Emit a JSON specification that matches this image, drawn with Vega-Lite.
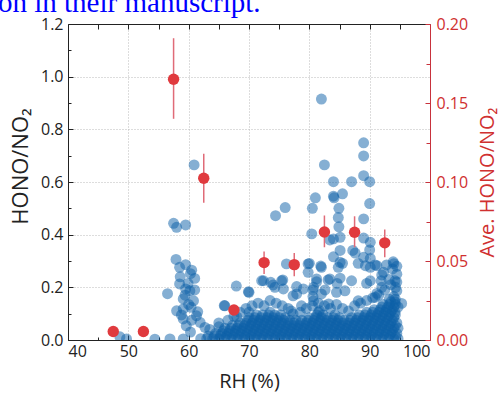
{
"$schema":"https://vega.github.io/schema/vega-lite/v6.json",
"width":362,"height":316,
"autosize":{"type":"none"},
"padding":{"left":68,"top":24,"right":69,"bottom":58},
"background":"white",
"title":{"text":"on in their manuscript.","font":"Liberation Serif","fontSize":29,"fontWeight":"normal","color":"#0000ff","anchor":"start","frame":"group","baseline":"alphabetic","offset":3,"dx":-70,"dy":28},
"config":{"view":{"stroke":null},"font":"Open Sans",
 "axis":{"labelFont":"Open Sans","titleFont":"Open Sans","labelFontSize":16,"titleFontSize":20,"titleFontWeight":"normal","labelColor":"#222","titleColor":"#222","domainColor":"#222","tickColor":"#222","domainWidth":1,"tickWidth":1,"grid":false}},
"datasets":{
"blue":[
{"rh":60.9,"ratio":0.665},{"rh":57.5,"ratio":0.443},{"rh":58.0,"ratio":0.428},{"rh":59.5,"ratio":0.437},{"rh":57.9,"ratio":0.306},{"rh":58.5,"ratio":0.276},{"rh":59.5,"ratio":0.286},{"rh":60.5,"ratio":0.265},{"rh":60.3,"ratio":0.252},{"rh":61.0,"ratio":0.234},{"rh":58.5,"ratio":0.213},{"rh":59.5,"ratio":0.194},{"rh":59.9,"ratio":0.215},{"rh":60.2,"ratio":0.187},{"rh":61.0,"ratio":0.19},{"rh":56.5,"ratio":0.176},{"rh":59.1,"ratio":0.156},{"rh":60.8,"ratio":0.149},{"rh":58.0,"ratio":0.111},{"rh":59.1,"ratio":0.118},{"rh":60.4,"ratio":0.124},{"rh":59.1,"ratio":0.08},{"rh":61.3,"ratio":0.092},{"rh":59.6,"ratio":0.054},{"rh":61.9,"ratio":0.067},{"rh":62.7,"ratio":0.048},{"rh":65.0,"ratio":0.05},{"rh":65.9,"ratio":0.131},{"rh":67.9,"ratio":0.205},{"rh":48.6,"ratio":0.012},{"rh":49.7,"ratio":0.004},{"rh":54.4,"ratio":0.003},{"rh":56.9,"ratio":0.004},{"rh":59.1,"ratio":0.004},{"rh":58.6,"ratio":0.24},{"rh":59.4,"ratio":0.17},{"rh":60.0,"ratio":0.135},{"rh":61.5,"ratio":0.107},{"rh":60.3,"ratio":0.03},{"rh":58.8,"ratio":0.095},{"rh":60.5,"ratio":0.075},{"rh":70.0,"ratio":0.181},{"rh":66.0,"ratio":0.13},{"rh":72.1,"ratio":0.225},{"rh":70.0,"ratio":0.105},{"rh":68.0,"ratio":0.087},
{"rh":82.0,"ratio":0.915},{"rh":89.0,"ratio":0.749},{"rh":89.0,"ratio":0.699},{"rh":82.5,"ratio":0.665},{"rh":89.0,"ratio":0.624},{"rh":84.0,"ratio":0.601},{"rh":87.0,"ratio":0.601},{"rh":90.0,"ratio":0.601},{"rh":81.0,"ratio":0.54},{"rh":84.0,"ratio":0.546},{"rh":84.1,"ratio":0.54},{"rh":85.5,"ratio":0.555},{"rh":90.0,"ratio":0.518},{"rh":80.5,"ratio":0.5},{"rh":84.9,"ratio":0.5},{"rh":76.0,"ratio":0.503},{"rh":74.4,"ratio":0.472},{"rh":89.0,"ratio":0.46},{"rh":84.8,"ratio":0.465},{"rh":84.9,"ratio":0.43},{"rh":80.4,"ratio":0.403},{"rh":83.4,"ratio":0.38},{"rh":85.1,"ratio":0.39},{"rh":89.0,"ratio":0.387},{"rh":87.2,"ratio":0.34},{"rh":87.6,"ratio":0.33},{"rh":90.1,"ratio":0.371},{"rh":90.0,"ratio":0.342},{"rh":89.0,"ratio":0.314},{"rh":90.1,"ratio":0.31},{"rh":90.1,"ratio":0.276},{"rh":91.2,"ratio":0.282},{"rh":89.3,"ratio":0.282},{"rh":84.0,"ratio":0.316},{"rh":85.1,"ratio":0.295},{"rh":85.5,"ratio":0.291},{"rh":81.9,"ratio":0.281},{"rh":80.0,"ratio":0.291},{"rh":79.8,"ratio":0.257},{"rh":92.8,"ratio":0.285},{"rh":93.9,"ratio":0.297},{"rh":94.0,"ratio":0.29},{"rh":92.3,"ratio":0.257},{"rh":92.0,"ratio":0.247},{"rh":87.0,"ratio":0.225},{"rh":88.1,"ratio":0.291},{"rh":72.4,"ratio":0.225},{"rh":73.6,"ratio":0.219},{"rh":75.4,"ratio":0.225},{"rh":74.3,"ratio":0.2},{"rh":76.2,"ratio":0.289},{"rh":79.8,"ratio":0.289},{"rh":82.0,"ratio":0.276},{"rh":81.2,"ratio":0.232},{"rh":83.4,"ratio":0.232},{"rh":84.8,"ratio":0.276},{"rh":80.7,"ratio":0.2},{"rh":79.0,"ratio":0.194},{"rh":77.9,"ratio":0.175},{"rh":77.3,"ratio":0.168},{"rh":75.7,"ratio":0.194},{"rh":82.0,"ratio":0.175},{"rh":84.5,"ratio":0.181},{"rh":85.9,"ratio":0.187},{"rh":80.7,"ratio":0.149},{"rh":83.2,"ratio":0.137},{"rh":81.7,"ratio":0.111},{"rh":78.7,"ratio":0.13},{"rh":77.3,"ratio":0.099},{"rh":85.1,"ratio":0.34},{"rh":84.0,"ratio":0.384},{"rh":85.1,"ratio":0.235},{"rh":90.1,"ratio":0.225},{"rh":91.9,"ratio":0.225},{"rh":94.2,"ratio":0.225},{"rh":88.1,"ratio":0.149},{"rh":90.9,"ratio":0.162},{"rh":94.5,"ratio":0.187},{"rh":69.9,"ratio":0.183},{"rh":74.0,"ratio":0.209},{"rh":75.6,"ratio":0.228},{"rh":77.9,"ratio":0.203},{"rh":81.2,"ratio":0.221},{"rh":83.1,"ratio":0.228},{"rh":82.6,"ratio":0.19},{"rh":84.6,"ratio":0.215},{"rh":89.5,"ratio":0.215},{"rh":91.2,"ratio":0.177},{"rh":95.3,"ratio":0.139},{"rh":90.9,"ratio":0.285},{"rh":92.0,"ratio":0.2},
{"rh":63.5,"ratio":0.04},{"rh":65.0,"ratio":0.065},{"rh":66.5,"ratio":0.075},{"rh":67.5,"ratio":0.09},{"rh":68.5,"ratio":0.105},{"rh":69.5,"ratio":0.12},{"rh":70.5,"ratio":0.13},{"rh":71.5,"ratio":0.14},{"rh":72.5,"ratio":0.13},{"rh":73.5,"ratio":0.15},{"rh":74.5,"ratio":0.14},{"rh":75.5,"ratio":0.13},{"rh":76.5,"ratio":0.12},{"rh":77.0,"ratio":0.11},{"rh":78.5,"ratio":0.105},{"rh":79.5,"ratio":0.12},{"rh":80.5,"ratio":0.13},{"rh":80.6,"ratio":0.165},{"rh":80.6,"ratio":0.19},{"rh":81.5,"ratio":0.14},{"rh":82.5,"ratio":0.13},{"rh":83.5,"ratio":0.12},{"rh":84.5,"ratio":0.135},{"rh":85.5,"ratio":0.12},{"rh":86.5,"ratio":0.11},{"rh":87.5,"ratio":0.13},{"rh":88.5,"ratio":0.14},{"rh":89.5,"ratio":0.15},{"rh":90.5,"ratio":0.16},{"rh":91.5,"ratio":0.17},{"rh":92.5,"ratio":0.19},{"rh":93.5,"ratio":0.21},{"rh":94.5,"ratio":0.22},{"rh":94.5,"ratio":0.25},{"rh":93.8,"ratio":0.27},{"rh":93.2,"ratio":0.23},{"rh":94.3,"ratio":0.2},{"rh":94.5,"ratio":0.28},
{"rh":62,"ratio":0.005},{"rh":63,"ratio":0.005},{"rh":64,"ratio":0.005},{"rh":65,"ratio":0.005},{"rh":66,"ratio":0.005},{"rh":67,"ratio":0.005},{"rh":68,"ratio":0.005},{"rh":69,"ratio":0.005},{"rh":70,"ratio":0.005},{"rh":71,"ratio":0.005},{"rh":72,"ratio":0.005},{"rh":73,"ratio":0.005},{"rh":74,"ratio":0.005},{"rh":75,"ratio":0.005},{"rh":76,"ratio":0.005},{"rh":77,"ratio":0.005},{"rh":78,"ratio":0.005},{"rh":79,"ratio":0.005},{"rh":80,"ratio":0.005},{"rh":81,"ratio":0.005},{"rh":82,"ratio":0.005},{"rh":83,"ratio":0.005},{"rh":84,"ratio":0.005},{"rh":85,"ratio":0.005},{"rh":86,"ratio":0.005},{"rh":87,"ratio":0.005},{"rh":88,"ratio":0.005},{"rh":89,"ratio":0.005},{"rh":90,"ratio":0.005},{"rh":91,"ratio":0.005},{"rh":92,"ratio":0.005},{"rh":93,"ratio":0.005},{"rh":94,"ratio":0.005},{"rh":94.7,"ratio":0.005},
{"rh":63.25,"ratio":0.015},{"rh":64.25,"ratio":0.015},{"rh":65.25,"ratio":0.015},{"rh":66.25,"ratio":0.015},{"rh":67.25,"ratio":0.015},{"rh":68.25,"ratio":0.015},{"rh":69.25,"ratio":0.015},{"rh":70.25,"ratio":0.015},{"rh":71.25,"ratio":0.015},{"rh":72.25,"ratio":0.015},{"rh":73.25,"ratio":0.015},{"rh":74.25,"ratio":0.015},{"rh":75.25,"ratio":0.015},{"rh":76.25,"ratio":0.015},{"rh":77.25,"ratio":0.015},{"rh":78.25,"ratio":0.015},{"rh":79.25,"ratio":0.015},{"rh":80.25,"ratio":0.015},{"rh":81.25,"ratio":0.015},{"rh":82.25,"ratio":0.015},{"rh":83.25,"ratio":0.015},{"rh":84.25,"ratio":0.015},{"rh":85.25,"ratio":0.015},{"rh":86.25,"ratio":0.015},{"rh":87.25,"ratio":0.015},{"rh":88.25,"ratio":0.015},{"rh":89.25,"ratio":0.015},{"rh":90.25,"ratio":0.015},{"rh":91.25,"ratio":0.015},{"rh":92.25,"ratio":0.015},{"rh":93.25,"ratio":0.015},{"rh":94.25,"ratio":0.015},
{"rh":64.5,"ratio":0.025},{"rh":65.5,"ratio":0.025},{"rh":66.5,"ratio":0.025},{"rh":67.5,"ratio":0.025},{"rh":68.5,"ratio":0.025},{"rh":69.5,"ratio":0.025},{"rh":70.5,"ratio":0.025},{"rh":71.5,"ratio":0.025},{"rh":72.5,"ratio":0.025},{"rh":73.5,"ratio":0.025},{"rh":74.5,"ratio":0.025},{"rh":75.5,"ratio":0.025},{"rh":76.5,"ratio":0.025},{"rh":77.5,"ratio":0.025},{"rh":78.5,"ratio":0.025},{"rh":79.5,"ratio":0.025},{"rh":80.5,"ratio":0.025},{"rh":81.5,"ratio":0.025},{"rh":82.5,"ratio":0.025},{"rh":83.5,"ratio":0.025},{"rh":84.5,"ratio":0.025},{"rh":85.5,"ratio":0.025},{"rh":86.5,"ratio":0.025},{"rh":87.5,"ratio":0.025},{"rh":88.5,"ratio":0.025},{"rh":89.5,"ratio":0.025},{"rh":90.5,"ratio":0.025},{"rh":91.5,"ratio":0.025},{"rh":92.5,"ratio":0.025},{"rh":93.5,"ratio":0.025},{"rh":94.5,"ratio":0.025},
{"rh":65.75,"ratio":0.035},{"rh":66.75,"ratio":0.035},{"rh":67.75,"ratio":0.035},{"rh":68.75,"ratio":0.035},{"rh":69.75,"ratio":0.035},{"rh":70.75,"ratio":0.035},{"rh":71.75,"ratio":0.035},{"rh":72.75,"ratio":0.035},{"rh":73.75,"ratio":0.035},{"rh":74.75,"ratio":0.035},{"rh":75.75,"ratio":0.035},{"rh":76.75,"ratio":0.035},{"rh":77.75,"ratio":0.035},{"rh":78.75,"ratio":0.035},{"rh":79.75,"ratio":0.035},{"rh":80.75,"ratio":0.035},{"rh":81.75,"ratio":0.035},{"rh":82.75,"ratio":0.035},{"rh":83.75,"ratio":0.035},{"rh":84.75,"ratio":0.035},{"rh":85.75,"ratio":0.035},{"rh":86.75,"ratio":0.035},{"rh":87.75,"ratio":0.035},{"rh":88.75,"ratio":0.035},{"rh":89.75,"ratio":0.035},{"rh":90.75,"ratio":0.035},{"rh":91.75,"ratio":0.035},{"rh":92.75,"ratio":0.035},{"rh":93.75,"ratio":0.035},
{"rh":66,"ratio":0.045},{"rh":67,"ratio":0.045},{"rh":68,"ratio":0.045},{"rh":69,"ratio":0.045},{"rh":70,"ratio":0.045},{"rh":71,"ratio":0.045},{"rh":72,"ratio":0.045},{"rh":73,"ratio":0.045},{"rh":74,"ratio":0.045},{"rh":75,"ratio":0.045},{"rh":76,"ratio":0.045},{"rh":77,"ratio":0.045},{"rh":78,"ratio":0.045},{"rh":79,"ratio":0.045},{"rh":80,"ratio":0.045},{"rh":81,"ratio":0.045},{"rh":82,"ratio":0.045},{"rh":83,"ratio":0.045},{"rh":84,"ratio":0.045},{"rh":85,"ratio":0.045},{"rh":86,"ratio":0.045},{"rh":87,"ratio":0.045},{"rh":88,"ratio":0.045},{"rh":89,"ratio":0.045},{"rh":90,"ratio":0.045},{"rh":91,"ratio":0.045},{"rh":92,"ratio":0.045},{"rh":93,"ratio":0.045},{"rh":94,"ratio":0.045},{"rh":94.7,"ratio":0.045},
{"rh":67.25,"ratio":0.055},{"rh":68.25,"ratio":0.055},{"rh":69.25,"ratio":0.055},{"rh":70.25,"ratio":0.055},{"rh":71.25,"ratio":0.055},{"rh":72.25,"ratio":0.055},{"rh":73.25,"ratio":0.055},{"rh":74.25,"ratio":0.055},{"rh":75.25,"ratio":0.055},{"rh":76.25,"ratio":0.055},{"rh":77.25,"ratio":0.055},{"rh":78.25,"ratio":0.055},{"rh":79.25,"ratio":0.055},{"rh":80.25,"ratio":0.055},{"rh":81.25,"ratio":0.055},{"rh":82.25,"ratio":0.055},{"rh":83.25,"ratio":0.055},{"rh":84.25,"ratio":0.055},{"rh":85.25,"ratio":0.055},{"rh":86.25,"ratio":0.055},{"rh":87.25,"ratio":0.055},{"rh":88.25,"ratio":0.055},{"rh":89.25,"ratio":0.055},{"rh":90.25,"ratio":0.055},{"rh":91.25,"ratio":0.055},{"rh":92.25,"ratio":0.055},{"rh":93.25,"ratio":0.055},{"rh":94.25,"ratio":0.055},
{"rh":68.5,"ratio":0.065},{"rh":69.5,"ratio":0.065},{"rh":70.5,"ratio":0.065},{"rh":71.5,"ratio":0.065},{"rh":72.5,"ratio":0.065},{"rh":73.5,"ratio":0.065},{"rh":74.5,"ratio":0.065},{"rh":75.5,"ratio":0.065},{"rh":76.5,"ratio":0.065},{"rh":77.5,"ratio":0.065},{"rh":78.5,"ratio":0.065},{"rh":79.5,"ratio":0.065},{"rh":80.5,"ratio":0.065},{"rh":81.5,"ratio":0.065},{"rh":82.5,"ratio":0.065},{"rh":83.5,"ratio":0.065},{"rh":84.5,"ratio":0.065},{"rh":85.5,"ratio":0.065},{"rh":86.5,"ratio":0.065},{"rh":87.5,"ratio":0.065},{"rh":88.5,"ratio":0.065},{"rh":89.5,"ratio":0.065},{"rh":90.5,"ratio":0.065},{"rh":91.5,"ratio":0.065},{"rh":92.5,"ratio":0.065},{"rh":93.5,"ratio":0.065},{"rh":94.5,"ratio":0.065},
{"rh":69.75,"ratio":0.075},{"rh":70.75,"ratio":0.075},{"rh":71.75,"ratio":0.075},{"rh":72.75,"ratio":0.075},{"rh":73.75,"ratio":0.075},{"rh":74.75,"ratio":0.075},{"rh":75.75,"ratio":0.075},{"rh":76.75,"ratio":0.075},{"rh":77.75,"ratio":0.075},{"rh":78.75,"ratio":0.075},{"rh":79.75,"ratio":0.075},{"rh":80.75,"ratio":0.075},{"rh":81.75,"ratio":0.075},{"rh":82.75,"ratio":0.075},{"rh":83.75,"ratio":0.075},{"rh":84.75,"ratio":0.075},{"rh":85.75,"ratio":0.075},{"rh":86.75,"ratio":0.075},{"rh":87.75,"ratio":0.075},{"rh":88.75,"ratio":0.075},{"rh":89.75,"ratio":0.075},{"rh":90.75,"ratio":0.075},{"rh":91.75,"ratio":0.075},{"rh":92.75,"ratio":0.075},{"rh":93.75,"ratio":0.075},
{"rh":70,"ratio":0.085},{"rh":71,"ratio":0.085},{"rh":72,"ratio":0.085},{"rh":73,"ratio":0.085},{"rh":74,"ratio":0.085},{"rh":75,"ratio":0.085},{"rh":76,"ratio":0.085},{"rh":80,"ratio":0.085},{"rh":81,"ratio":0.085},{"rh":82,"ratio":0.085},{"rh":83,"ratio":0.085},{"rh":84,"ratio":0.085},{"rh":85,"ratio":0.085},{"rh":87,"ratio":0.085},{"rh":88,"ratio":0.085},{"rh":89,"ratio":0.085},{"rh":90,"ratio":0.085},{"rh":91,"ratio":0.085},{"rh":92,"ratio":0.085},{"rh":93,"ratio":0.085},{"rh":94,"ratio":0.085},
{"rh":71.25,"ratio":0.095},{"rh":72.25,"ratio":0.095},{"rh":73.25,"ratio":0.095},{"rh":74.25,"ratio":0.095},{"rh":75.25,"ratio":0.095},{"rh":81.25,"ratio":0.095},{"rh":82.25,"ratio":0.095},{"rh":84.25,"ratio":0.095},{"rh":88.25,"ratio":0.095},{"rh":89.25,"ratio":0.095},{"rh":90.25,"ratio":0.095},{"rh":91.25,"ratio":0.095},{"rh":92.25,"ratio":0.095},{"rh":93.25,"ratio":0.095},{"rh":94.25,"ratio":0.095},
{"rh":73.5,"ratio":0.105},{"rh":81.5,"ratio":0.105},{"rh":89.5,"ratio":0.105},{"rh":90.5,"ratio":0.105},{"rh":91.5,"ratio":0.105},{"rh":92.5,"ratio":0.105},{"rh":93.5,"ratio":0.105},{"rh":94.2,"ratio":0.105},
{"rh":90.75,"ratio":0.115},{"rh":91.75,"ratio":0.115},{"rh":92.75,"ratio":0.115},{"rh":93.75,"ratio":0.115},
{"rh":92,"ratio":0.125},{"rh":93,"ratio":0.125},{"rh":94,"ratio":0.125},{"rh":94.7,"ratio":0.125},
{"rh":92.25,"ratio":0.135},{"rh":93.25,"ratio":0.135},{"rh":94.25,"ratio":0.135},
{"rh":93.5,"ratio":0.145},{"rh":94.2,"ratio":0.145},{"rh":93.25,"ratio":0.155},{"rh":94.25,"ratio":0.155},{"rh":94,"ratio":0.165}
],
"ave":[
{"rh":47.5,"ave":0.0054,"lo":0.0054,"hi":0.0054},
{"rh":52.5,"ave":0.0054,"lo":0.0054,"hi":0.0054},
{"rh":57.5,"ave":0.165,"lo":0.140,"hi":0.191},
{"rh":62.5,"ave":0.1024,"lo":0.0868,"hi":0.1179},
{"rh":67.5,"ave":0.019,"lo":0.017,"hi":0.022},
{"rh":72.5,"ave":0.049,"lo":0.0418,"hi":0.056},
{"rh":77.5,"ave":0.0477,"lo":0.0403,"hi":0.0551},
{"rh":82.5,"ave":0.0684,"lo":0.0587,"hi":0.0788},
{"rh":87.5,"ave":0.0682,"lo":0.0587,"hi":0.0783},
{"rh":92.5,"ave":0.0615,"lo":0.0523,"hi":0.0699}
]},
"layer":[
{"layer":[
 {"data":{"name":"blue"},
  "mark":{"type":"circle","size":120,"color":"#0b60a8","opacity":0.5,"clip":true},
  "encoding":{
   "x":{"field":"rh","type":"quantitative","scale":{"domain":[40,100],"nice":false,"zero":false},
        "axis":{"orient":"bottom","values":[40,50,60,70,80,90,100],"title":"RH (%)","tickSize":-5,"labelPadding":8,"titlePadding":12,"grid":true,"gridDash":[1,2],"gridColor":"#bbbbbb","gridWidth":1}},
   "y":{"field":"ratio","type":"quantitative","scale":{"domain":[0,1.2],"nice":false},
        "axis":{"orient":"left","values":[0,0.2,0.4,0.6,0.8,1.0,1.2],"format":".1f","title":"HONO/NO₂","titleFontSize":22,"titleY":142,"tickSize":-5,"labelPadding":10,"titlePadding":8,"grid":true,"gridDash":[1,2],"gridColor":"#bbbbbb","gridWidth":1}}}},
 {"data":{"values":[]},
  "mark":{"type":"point"},
  "encoding":{
   "x":{"field":"rh","type":"quantitative","axis":{"orient":"bottom","values":[45,55,65,75,85,95],"labels":false,"title":null,"tickSize":-3,"domain":false}},
   "y":{"field":"ratio","type":"quantitative","axis":{"orient":"left","values":[0.1,0.3,0.5,0.7,0.9,1.1],"labels":false,"title":null,"tickSize":-3,"domain":false}}}}
 ],
 "resolve":{"axis":{"x":"independent","y":"independent"}}},
{"layer":[
 {"data":{"name":"ave"},
  "mark":{"type":"rule","color":"#e06b78","strokeWidth":1.5},
  "encoding":{
   "x":{"field":"rh","type":"quantitative","axis":{"orient":"top","values":[45,50,55,60,65,70,75,80,85,90,95],"labels":false,"title":null,"tickSize":-5}},
   "y":{"field":"lo","type":"quantitative","scale":{"domain":[0,0.2],"nice":false},
        "axis":{"orient":"right","values":[0.025,0.075,0.125,0.175],"labels":false,"title":null,"tickSize":-4,"domain":false,"tickColor":"#c8323c"}},
   "y2":{"field":"hi"}}},
 {"data":{"name":"ave"},
  "mark":{"type":"circle","size":130,"color":"#e03a3e","opacity":1},
  "encoding":{
   "x":{"field":"rh","type":"quantitative","axis":null},
   "y":{"field":"ave","type":"quantitative",
        "axis":{"orient":"right","values":[0,0.05,0.1,0.15,0.2],"format":".2f","title":"Ave. HONO/NO₂","titleAngle":270,"titleBaseline":"top","titlePadding":10,"tickSize":-5,"labelPadding":11,"domainColor":"#c8323c","tickColor":"#c8323c","labelColor":"#d03030","titleColor":"#d03030"}}}}
 ],
 "resolve":{"axis":{"x":"independent","y":"independent"}}}
],
"resolve":{"scale":{"y":"independent"},"axis":{"x":"independent","y":"independent"}}
}
